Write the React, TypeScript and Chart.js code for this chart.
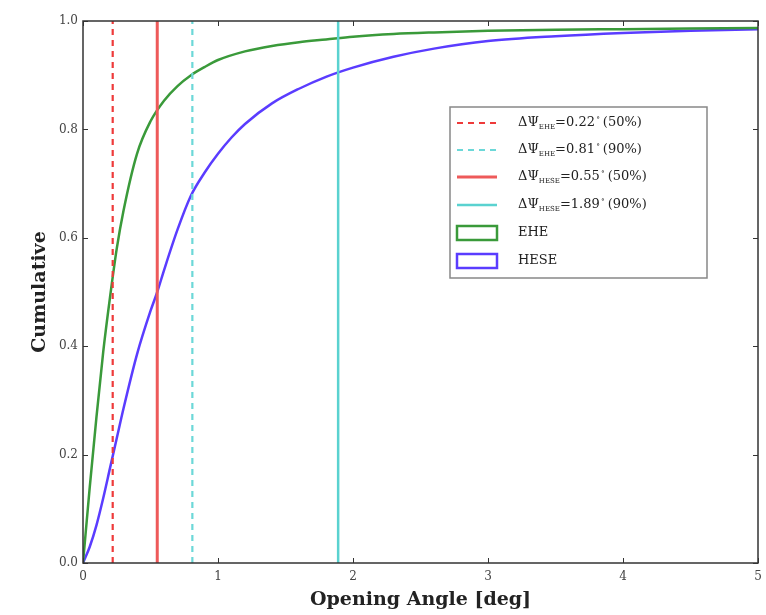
import React, { useEffect, useRef } from "react";
import { Chart, registerables } from "chart.js";

Chart.register(...registerables);

// Opening angle grid (deg)
const angleEHE = [0, 0.05, 0.1, 0.15, 0.2, 0.25, 0.3, 0.4, 0.5, 0.6, 0.7, 0.8, 0.9, 1.0, 1.2, 1.4, 1.6, 1.8, 2.0, 2.3, 2.6, 3.0, 3.5, 4.0, 4.5, 5.0];
const cumEHE = [0, 0.14, 0.27, 0.39, 0.49, 0.58, 0.65, 0.755, 0.815, 0.853, 0.88, 0.9, 0.915, 0.928, 0.944, 0.954, 0.961, 0.966, 0.971, 0.976, 0.979, 0.982, 0.984, 0.985, 0.986, 0.987];

const angleHESE = [0, 0.05, 0.1, 0.15, 0.2, 0.25, 0.3, 0.4, 0.5, 0.55, 0.6, 0.7, 0.8, 0.9, 1.0, 1.1, 1.2, 1.4, 1.6, 1.8, 2.0, 2.3, 2.6, 3.0, 3.5, 4.0, 4.5, 5.0];
const cumHESE = [0, 0.03, 0.07, 0.12, 0.175, 0.23, 0.285, 0.385, 0.465, 0.5, 0.54, 0.615, 0.678, 0.72, 0.755, 0.785, 0.81, 0.848, 0.875, 0.897, 0.914, 0.934, 0.949, 0.963, 0.972, 0.978, 0.982, 0.985];

// Vertical markers
const markerSample = ["EHE", "EHE", "HESE", "HESE"];
const markerValue = [0.22, 0.81, 0.55, 1.89];
const markerPct = ["50%", "90%", "50%", "90%"];
const markerColor = ["#ee3a3a", "#6cd8d8", "#ee5a5a", "#5ad2d0"];
const markerDash = [[6, 5], [6, 5], [], []];
const markerWidth = [2.2, 2.2, 3, 2.5];

const seriesNames = ["EHE", "HESE"];
const seriesColors = ["#3a9a3a", "#5a3cff"];

const xTicks = [0, 1, 2, 3, 4, 5];
const yTicks = [0, 0.2, 0.4, 0.6, 0.8, 1.0];

const SERIF = "'DejaVu Serif', serif";

const framePlugin = {
  id: "framePlugin",
  afterDraw(chart: any) {
    const { ctx, chartArea: a, scales } = chart;
    const xs = scales.x;
    const ys = scales.y;
    ctx.save();
    ctx.strokeStyle = "#333";
    ctx.lineWidth = 1.5;
    ctx.strokeRect(a.left, a.top, a.right - a.left, a.bottom - a.top);
    ctx.lineWidth = 1;
    const tl = 5;
    ctx.beginPath();
    xTicks.forEach((v) => {
      const px = Math.round(xs.getPixelForValue(v)) + 0.5;
      ctx.moveTo(px, a.bottom);
      ctx.lineTo(px, a.bottom - tl);
      ctx.moveTo(px, a.top);
      ctx.lineTo(px, a.top + tl);
    });
    yTicks.forEach((v) => {
      const py = Math.round(ys.getPixelForValue(v)) + 0.5;
      ctx.moveTo(a.left, py);
      ctx.lineTo(a.left + tl, py);
      ctx.moveTo(a.right, py);
      ctx.lineTo(a.right - tl, py);
    });
    ctx.stroke();

    // Legend
    const bx = 450, by = 107, bw = 257, bh = 171;
    ctx.fillStyle = "#fff";
    ctx.strokeStyle = "#888";
    ctx.lineWidth = 1.5;
    ctx.beginPath();
    ctx.rect(bx, by, bw, bh);
    ctx.fill();
    ctx.stroke();
    const rowY = [123, 150, 177, 205, 233, 261];
    const sx0 = 457, sx1 = 497, tx = 518;
    ctx.textBaseline = "middle";
    ctx.fillStyle = "#222";
    for (let i = 0; i < markerValue.length; i++) {
      const y = rowY[i];
      ctx.save();
      ctx.strokeStyle = markerColor[i];
      ctx.lineWidth = markerWidth[i];
      ctx.setLineDash(markerDash[i]);
      ctx.beginPath();
      ctx.moveTo(sx0, y);
      ctx.lineTo(sx1, y);
      ctx.stroke();
      ctx.restore();
      let x = tx;
      ctx.font = `13px ${SERIF}`;
      ctx.fillText("ΔΨ", x, y);
      x += ctx.measureText("ΔΨ").width;
      ctx.font = `7px ${SERIF}`;
      ctx.fillText(markerSample[i], x, y + 4);
      x += ctx.measureText(markerSample[i]).width;
      ctx.font = `13px ${SERIF}`;
      const val = "=" + markerValue[i].toFixed(2);
      ctx.fillText(val, x, y);
      x += ctx.measureText(val).width;
      ctx.font = `8px ${SERIF}`;
      ctx.fillText("∘", x + 1, y - 5);
      x += ctx.measureText("∘").width + 4;
      ctx.font = `13px ${SERIF}`;
      ctx.fillText("(" + markerPct[i] + ")", x, y);
    }
    for (let j = 0; j < seriesNames.length; j++) {
      const y = rowY[4 + j];
      ctx.strokeStyle = seriesColors[j];
      ctx.lineWidth = 2.5;
      ctx.strokeRect(sx0, y - 7, sx1 - sx0, 14);
      ctx.fillStyle = "#222";
      ctx.font = `13px ${SERIF}`;
      ctx.fillText(seriesNames[j], tx, y);
    }
    ctx.restore();
  },
};

export default function App() {
  const ref = useRef<HTMLCanvasElement | null>(null);
  useEffect(() => {
    if (!ref.current) return;
    const markerSets = markerValue.map((v, i) => ({
      label: `ΔΨ ${markerSample[i]}=${v}° (${markerPct[i]})`,
      data: [
        { x: v, y: 0 },
        { x: v, y: 1 },
      ],
      borderColor: markerColor[i],
      borderWidth: markerWidth[i],
      borderDash: markerDash[i],
      pointRadius: 0,
      order: 0,
    }));
    const curves = [
      { name: seriesNames[0], xs: angleEHE, ys: cumEHE, color: seriesColors[0] },
      { name: seriesNames[1], xs: angleHESE, ys: cumHESE, color: seriesColors[1] },
    ].map((s) => ({
      label: s.name,
      data: s.xs.map((x, k) => ({ x, y: s.ys[k] })),
      borderColor: s.color,
      borderWidth: 2.5,
      pointRadius: 0,
      cubicInterpolationMode: "monotone" as const,
      order: 1,
    }));
    const chart = new Chart(ref.current, {
      type: "line",
      data: { datasets: [...curves, ...markerSets] as any },
      options: {
        animation: false,
        responsive: true,
        maintainAspectRatio: false,
        layout: { padding: { left: 0, right: 8, top: 21, bottom: 0 } },
        plugins: { legend: { display: false }, tooltip: { enabled: false } },
        scales: {
          x: {
            type: "linear",
            min: 0,
            max: 5,
            afterFit: (s: any) => {
              s.height = 52;
              s.paddingLeft = 0;
              s.paddingRight = 0;
            },
            afterBuildTicks: (s: any) => {
              s.ticks = xTicks.map((v) => ({ value: v }));
            },
            ticks: {
              color: "#444",
              font: { family: SERIF, size: 12 },
              padding: 7,
              maxRotation: 0,
              callback: (v: any) => String(v),
            },
            grid: { display: false, drawTicks: false },
            border: { display: false },
            title: {
              display: true,
              text: "Opening Angle [deg]",
              color: "#222",
              font: { family: SERIF, size: 19, weight: "bold" },
              padding: { top: 0, bottom: 4 },
            },
          },
          y: {
            type: "linear",
            min: 0,
            max: 1,
            afterFit: (s: any) => {
              s.width = 83;
              s.paddingTop = 0;
              s.paddingBottom = 0;
            },
            afterBuildTicks: (s: any) => {
              s.ticks = yTicks.map((v) => ({ value: v }));
            },
            ticks: {
              color: "#444",
              font: { family: SERIF, size: 12 },
              padding: 5,
              callback: (v: any) => Number(v).toFixed(1),
            },
            grid: { display: false, drawTicks: false },
            border: { display: false },
            title: {
              display: true,
              text: "Cumulative",
              color: "#222",
              font: { family: SERIF, size: 19, weight: "bold" },
              padding: { top: 29, bottom: 0 },
            },
          },
        },
      },
      plugins: [framePlugin],
    });
    return () => chart.destroy();
  }, []);
  return (
    <div style={{ position: "fixed", left: 0, top: 0, width: 766, height: 615, background: "#fff" }}>
      <canvas ref={ref} />
    </div>
  );
}
